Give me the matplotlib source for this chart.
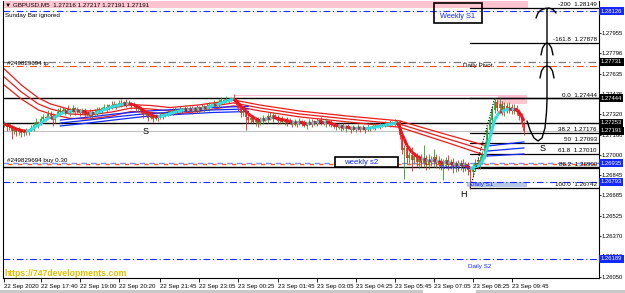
import matplotlib
matplotlib.use("Agg")
import matplotlib.pyplot as plt
import numpy as np
from matplotlib.patches import Rectangle
from matplotlib.collections import LineCollection

# ------------------------------------------------------------------ data
symbol_header = "\u25bc GBPUSD,M5  1.27216 1.27217 1.27191 1.27191"
first_open = 1.27236
closes = [
    1.27243, 1.27220, 1.27228, 1.27189, 1.27204, 1.27181, 1.27196, 1.27173, 1.27189, 1.27181,
    1.27196, 1.27212, 1.27236, 1.27259, 1.27243, 1.27282, 1.27298, 1.27290, 1.27322, 1.27306,
    1.27275, 1.27314, 1.27337, 1.27353, 1.27337, 1.27361, 1.27329, 1.27345, 1.27368, 1.27337,
    1.27353, 1.27329, 1.27345, 1.27314, 1.27329, 1.27306, 1.27337, 1.27322, 1.27353, 1.27345,
    1.27368, 1.27376, 1.27361, 1.27392, 1.27384, 1.27400, 1.27384, 1.27408, 1.27400, 1.27415,
    1.27400, 1.27408, 1.27384, 1.27392, 1.27361, 1.27368, 1.27337, 1.27314, 1.27329, 1.27290,
    1.27306, 1.27282, 1.27298, 1.27290, 1.27314, 1.27306, 1.27329, 1.27322, 1.27345, 1.27337,
    1.27353, 1.27345, 1.27361, 1.27353, 1.27368, 1.27353, 1.27361, 1.27345, 1.27368, 1.27353,
    1.27376, 1.27361, 1.27384, 1.27368, 1.27392, 1.27400, 1.27408, 1.27392, 1.27415, 1.27431,
    1.27423, 1.27439, 1.27431, 1.27447, 1.27439, 1.27408, 1.27368, 1.27329, 1.27345, 1.27298,
    1.27275, 1.27290, 1.27259, 1.27275, 1.27243, 1.27267, 1.27290, 1.27275, 1.27306, 1.27282,
    1.27314, 1.27290, 1.27267, 1.27282, 1.27259, 1.27275, 1.27251, 1.27267, 1.27236, 1.27259,
    1.27243, 1.27267, 1.27251, 1.27228, 1.27243, 1.27259, 1.27243, 1.27267, 1.27251, 1.27275,
    1.27259, 1.27243, 1.27267, 1.27251, 1.27236, 1.27220, 1.27228, 1.27212, 1.27228, 1.27204,
    1.27220, 1.27212, 1.27196, 1.27212, 1.27204, 1.27220, 1.27204, 1.27212, 1.27196, 1.27220,
    1.27212, 1.27228, 1.27220, 1.27236, 1.27228, 1.27243, 1.27236, 1.27251, 1.27243, 1.27259,
    1.27251, 1.27267, 1.27157, 1.27040, 1.27056, 1.26977, 1.27001, 1.26962, 1.26993, 1.26946,
    1.26970, 1.26938, 1.26977, 1.26923, 1.26962, 1.26946, 1.26985, 1.26931, 1.26954, 1.26915,
    1.26938, 1.26962, 1.26923, 1.26946, 1.26899, 1.26931, 1.26915, 1.26938, 1.26907, 1.26923,
    1.26884, 1.26868, 1.26899, 1.26938, 1.26915, 1.26962, 1.27001, 1.27079, 1.27196, 1.27275,
    1.27353, 1.27415, 1.27368, 1.27400, 1.27337, 1.27384, 1.27353, 1.27376, 1.27345, 1.27368,
    1.27337, 1.27306, 1.27243, 1.27191,
]
up_pips = [
    2, 1, 2, 1, 2, 1, 2, 1, 1, 2,   1, 2, 2, 3, 1, 2, 2, 1, 3, 2,
    2, 1, 3, 2, 2, 1, 3, 2, 2, 1,   2, 1, 2, 2, 1, 3, 1, 2, 2, 2,
    1, 2, 2, 1, 3, 2, 1, 2, 3, 1,   2, 2, 1, 2, 1, 2, 1, 2, 1, 2,
    2, 1, 2, 1, 2, 2, 1, 2, 1, 2,   2, 1, 2, 1, 2, 1, 2, 2, 1, 2,
    1, 2, 1, 2, 2, 1, 2, 1, 2, 2,   1, 2, 1, 1, 3, 1, 2, 1, 2, 1,
    2, 1, 2, 1, 2, 3, 2, 1, 2, 3,   2, 1, 2, 1, 2, 1, 2, 2, 1, 2,
    1, 2, 1, 2, 1, 2, 2, 1, 2, 1,   2, 1, 2, 1, 2, 1, 1, 2, 1, 2,
    1, 2, 1, 2, 1, 2, 1, 2, 1, 2,   1, 2, 2, 1, 2, 1, 2, 1, 2, 1,
    2, 1, 1, 3, 2, 4, 2, 6, 3, 2,   3, 4, 10, 2, 5, 3, 6, 2, 4, 2,
    3, 2, 4, 2, 3, 2, 3, 2, 3, 2,   2, 2, 3, 3, 4, 3, 3, 3, 2, 2,
    3, 3, 2, 5, 2, 3, 2, 4, 2, 3,   2, 2, 2, 2,
]
dn_pips = [
    2, 3, 2, 6, 2, 3, 2, 3, 2, 2,   2, 1, 2, 1, 3, 1, 2, 2, 1, 2,
    5, 2, 1, 2, 1, 2, 1, 2, 1, 2,   1, 2, 1, 2, 1, 2, 2, 1, 2, 1,
    2, 1, 2, 1, 2, 1, 2, 1, 2, 1,   2, 1, 2, 1, 2, 2, 1, 2, 1, 2,
    1, 2, 1, 2, 1, 2, 1, 2, 1, 2,   1, 2, 1, 2, 1, 2, 1, 2, 1, 2,
    2, 1, 2, 1, 2, 1, 2, 1, 2, 1,   2, 1, 2, 1, 2, 2, 2, 3, 2, 10,
    2, 2, 1, 3, 2, 1, 2, 1, 2, 1,   2, 1, 2, 2, 1, 2, 2, 1, 2, 1,
    2, 1, 2, 1, 2, 1, 2, 1, 2, 1,   2, 1, 2, 2, 2, 1, 2, 1, 2, 1,
    2, 1, 2, 1, 2, 1, 2, 1, 2, 1,   2, 1, 2, 1, 2, 1, 2, 1, 2, 1,
    2, 1, 3, 3, 23, 4, 5, 9, 3, 4,  5, 3, 3, 4, 3, 3, 4, 3, 4, 3,
    11, 3, 4, 3, 4, 3, 4, 3, 4, 3,  4, 13, 3, 2, 2, 2, 3, 2, 2, 2,
    2, 2, 2, 2, 2, 3, 2, 2, 2, 2,   2, 3, 2, 3,
]

time_tick_bars = [0, 15, 31, 47, 64, 80, 96, 112, 128, 144, 160, 176, 192, 208]
time_tick_labels = ["22 Sep 2020", "22 Sep 17:40", "22 Sep 19:00", "22 Sep 20:20",
                    "22 Sep 21:45", "22 Sep 23:05", "23 Sep 00:25", "23 Sep 01:45",
                    "23 Sep 03:05", "23 Sep 04:25", "23 Sep 05:45", "23 Sep 07:05",
                    "23 Sep 08:25", "23 Sep 09:45"]
price_ticks = [1.28115, 1.27955, 1.27796, 1.27635, 1.27475, 1.27320, 1.27160,
               1.27000, 1.26845, 1.26685, 1.26525, 1.26370, 1.26210, 1.26050]

# slow moving-average band 1 (3 lines)
ma1_bars = [0, 7, 14, 19, 27, 35, 44, 52, 60, 68, 80, 94, 105, 121, 141, 162, 170, 182, 198, 213]
ma1_mid = [1.27611, 1.27494, 1.27400, 1.27361, 1.27322, 1.27314, 1.27337, 1.27368, 1.27361,
           1.27345, 1.27368, 1.27408, 1.27368, 1.27322, 1.27282, 1.27243, 1.27196, 1.27126,
           1.27032, 1.27056]
ma1_spread = [0.00063, 0.00055, 0.00047, 0.00039, 0.00035, 0.00031, 0.00031, 0.00027, 0.00027,
              0.00027, 0.00025, 0.00023, 0.00023, 0.00023, 0.00023, 0.00025, 0.00027, 0.00031,
              0.00039, 0.00047]
# moving-average band 2 (blue, uptrend)
ma2_bars = [23, 35, 45, 57, 70, 85, 100]
ma2_mid = [1.27251, 1.27275, 1.27298, 1.27322, 1.27337, 1.27353, 1.27361]
ma2_spread = [0.00023, 0.00023, 0.00023, 0.00021, 0.00020, 0.00020, 0.00020]

weekly_s1 = 1.28126
daily_pivot = 1.27731
tp_level = 1.27697
line_hi = 1.27444
line_mid = 1.27253
bid = 1.27191
weekly_s2 = 1.26935
buy_level = 1.26930
line_low = 1.26905
daily_s1 = 1.26793
daily_s2 = 1.26189
prev_high = 1.27470

fib_labels = ["-200", "-161.8", "0.0", "38.2", "50", "61.8", "88.2", "100.0"]
fib_prices = [1.28149, 1.27878, 1.27444, 1.27176, 1.27093, 1.27010, 1.26900, 1.26742]
fib_low_bar = 191
fib_high_bar = 201

# ------------------------------------------------------------------ layout helpers
W, H = 625, 293
PXB = 2.44
def bx(px):  # pixel x -> bar coordinate
    return (px - 3) / PXB - 0.5
def pr(py):  # pixel y -> price
    return 1.28213 - 0.0000782 * py

plt.rcParams['font.family'] = ['Liberation Sans', 'DejaVu Sans']
fig = plt.figure(figsize=(W / 100, H / 100), dpi=100)
fig.patch.set_facecolor('white')
ax = fig.add_axes([3 / W, (H - 277.5) / H, 596 / W, 276.5 / H])
ax.set_xlim(bx(3), bx(599))
ax.set_ylim(pr(277.5), pr(1))
ax.set_facecolor('white')

BLUE = '#1428ff'
FS = 4.5
FSA = 4.2

# top pink band and header
ax.add_patch(Rectangle((bx(3), pr(8)), bx(528) - bx(3), pr(0) - pr(8), fc='#ffc4cf', ec='none', zorder=0))
# pink zones
ax.add_patch(Rectangle((bx(235), prev_high - 0.00006), bx(527) - bx(235), 0.00010, fc='#ffc4cf', ec='none', zorder=0))
ax.add_patch(Rectangle((bx(498), pr(104)), bx(527) - bx(498), pr(95) - pr(104), fc='#ffc4cf', ec='none', zorder=0))
ax.add_patch(Rectangle((bx(467), pr(187)), bx(527) - bx(467), pr(182) - pr(187), fc='#b8c8e8', ec='none', zorder=0))

dashdot = (0, (6, 2.5, 1, 2.5))
xl = ax.get_xlim()
ax.axhline(weekly_s1, color=BLUE, lw=0.8, ls=dashdot, zorder=1)
ax.axhline(daily_pivot, color='#7a7a7a', lw=0.9, ls=dashdot, zorder=1)
ax.axhline(tp_level, color='#ff4a10', lw=0.8, ls=dashdot, zorder=1)
ax.axhline(line_hi, color='black', lw=1.0, zorder=1)
ax.axhline(line_mid, color='black', lw=1.0, zorder=1)
ax.axhline(bid, color='#c0c0c0', lw=0.8, zorder=1)
ax.axhline(weekly_s2, color='#7090ff', lw=1.0, ls=(0, (4, 3)), zorder=1)
ax.axhline(buy_level, color='#ff5a10', lw=1.0, ls=(3.5, (3, 4)), zorder=1)
ax.axhline(line_low, color='black', lw=1.0, zorder=1)
ax.axhline(daily_s1, color=BLUE, lw=0.8, ls=dashdot, zorder=1)
ax.axhline(daily_s2, color=BLUE, lw=0.8, ls=dashdot, zorder=1)

# fibonacci levels
for lbl, p in zip(fib_labels, fib_prices):
    ax.plot([fib_low_bar, xl[1]], [p, p], color='black', lw=0.9, zorder=1)
    ax.annotate(f"{lbl}  {p:.5f}", xy=(1, p), xycoords=('axes fraction', 'data'),
                xytext=(-1.5, 0.6), textcoords='offset points', ha='right', va='bottom',
                fontsize=FS, color='black', zorder=6)
ax.plot([fib_low_bar, fib_high_bar], [fib_prices[-1], fib_prices[2]], color='black',
        lw=0.8, ls=(0, (1, 1.5)), zorder=5)

# MA bands
mb1 = np.array(ma1_bars); mm1 = np.array(ma1_mid); ms1 = np.array(ma1_spread)
k = list(mb1).index(198)
for off in (-1, 0, 1):
    ax.plot(mb1[:k + 1], mm1[:k + 1] + off * ms1[:k + 1], color='#ee1c1c', lw=0.9, zorder=2)
    ax.plot(mb1[k:], mm1[k:] + off * ms1[k:], color='#1428ff', lw=0.9, zorder=2)
mb2 = np.array(ma2_bars); mm2 = np.array(ma2_mid); ms2 = np.array(ma2_spread)
for off in (-1, 0, 1):
    ax.plot(mb2, mm2 + off * ms2, color='#1428ff', lw=0.9, zorder=2)

# candles
c = np.array(closes)
o = np.concatenate([[first_open], c[:-1]])
hi = np.maximum(o, c) + np.array(up_pips) * 0.0001
lo = np.minimum(o, c) - np.array(dn_pips) * 0.0001
xb = np.arange(len(c))
cols = np.where(c >= o, '#22a022', '#ff1c1c')
ax.vlines(xb, lo, hi, colors=cols, lw=0.6, zorder=3)
body_lo = np.minimum(o, c); body_hi = np.maximum(o, c)
body_hi = np.where(body_hi - body_lo < 0.00003, body_lo + 0.00003, body_hi)
ax.vlines(xb, body_lo, body_hi, colors=cols, lw=1.2, zorder=3)

# fast trend line (EMA of closes), coloured by direction
ema = np.empty_like(c)
alpha = 2 / (5 + 1)
ema[0] = c[0]
for i in range(1, len(c)):
    ema[i] = alpha * c[i] + (1 - alpha) * ema[i - 1]
segs = [[(xb[i], ema[i]), (xb[i + 1], ema[i + 1])] for i in range(len(c) - 1)]
scol = ['#2ee0e6' if ema[i + 1] >= ema[i] else '#e8141e' for i in range(len(c) - 1)]
ax.add_collection(LineCollection(segs, colors=scol, linewidths=2.2, zorder=4))

# hand-drawn arrows
def draw_px(pts):
    ax.plot([bx(p[0]) for p in pts], [pr(p[1]) for p in pts], color='black', lw=1.0,
            zorder=6, solid_capstyle='round')
draw_px([(527, 121), (530, 130), (534, 138), (538, 141), (542, 138), (545, 128), (546.5, 112), (547, 100), (547, 9)])
draw_px([(540, 78), (541.5, 71), (544, 67), (547, 66), (550, 67), (552.5, 71), (554, 78)])
draw_px([(541, 55), (542.5, 48), (545, 44), (547, 43), (549, 44), (551.5, 48), (553, 55)])
draw_px([(536, 18), (538, 13), (541, 10), (545, 8.5), (549, 8), (553, 9.5), (556, 13)])

# boxes with text
ax.add_patch(Rectangle((bx(434), pr(23)), bx(482) - bx(434), pr(3) - pr(23), fc='none', ec='black', lw=1.2, zorder=6))
ax.text(bx(440), pr(16), "Weekly S1", color=BLUE, fontsize=5.3, va='center', ha='left', zorder=7)
ax.add_patch(Rectangle((bx(335), pr(167)), bx(398) - bx(335), pr(157) - pr(167), fc='white', ec='black', lw=1.2, zorder=6))
ax.text(bx(344), pr(162), "weekly s2", color=BLUE, fontsize=5.6, va='center', ha='left', zorder=7)

ax.text(bx(7), tp_level + 0.00003, "#249829694 tp", fontsize=FS, color='black', va='bottom', ha='left', zorder=7)
ax.text(bx(7), buy_level + 0.00005, "#249829694 buy 0.30", fontsize=FS, color='black', va='bottom', ha='left', zorder=7)
ax.text(bx(463), pr(65), "Daily Pivot", fontsize=FS, color='black', va='center', ha='left', zorder=7)
ax.text(bx(440), pr(167), "Weekly S2", fontsize=FS, color=BLUE, va='center', ha='left', zorder=7)
ax.text(bx(470), pr(184.5), "Daily S1", fontsize=FS, color=BLUE, va='center', ha='left', zorder=7)
ax.text(bx(468), pr(266), "Daily S2", fontsize=FS, color=BLUE, va='center', ha='left', zorder=7)
ax.text(bx(146), pr(131), "S", fontsize=6.5, color='black', va='center', ha='center', zorder=7)
ax.text(bx(543), pr(148), "S", fontsize=6.5, color='black', va='center', ha='center', zorder=7)
ax.text(bx(463), pr(194), "H", fontsize=6.5, color='black', va='center', ha='center', zorder=7)
ax.text(bx(4), pr(273), "https://747developments.com", fontsize=6.2, fontweight='bold',
        color='#e2c000', va='center', ha='left', zorder=7)

fig.text(5 / W, 1 - 4.5 / H, symbol_header, fontsize=FS, color='black', va='center', ha='left')
fig.text(5 / W, 1 - 15 / H, "Sunday Bar ignored", fontsize=FS, color='black', va='center', ha='left')

# axes / ticks
ax.spines['top'].set_visible(False)
for s in ('left', 'right', 'bottom'):
    ax.spines[s].set_color('black')
    ax.spines[s].set_linewidth(0.8)
ax.yaxis.tick_right()
ax.set_yticks(price_ticks)
ax.set_yticklabels([f"{p:.5f}" for p in price_ticks])
ax.tick_params(axis='y', labelsize=FSA, length=1.5, width=0.6, pad=0.6, colors='black')
ax.set_xticks(time_tick_bars)
ax.set_xticklabels(time_tick_labels)
ax.tick_params(axis='x', labelsize=4.45, length=3, width=0.6, pad=1.5)
for t in ax.get_xticklabels():
    t.set_ha('left')

# highlighted price labels on the right scale
hl = [(weekly_s1, BLUE), (daily_pivot, 'black'), (line_hi, 'black'), (line_mid, 'black'),
      (bid, 'black'), (weekly_s2, BLUE), (daily_s1, BLUE), (daily_s2, BLUE)]
for p, colr in hl:
    ax.annotate(f"{p:.5f}", xy=(1, p), xycoords=('axes fraction', 'data'), xytext=(1.2, 0),
                textcoords='offset points', ha='left', va='center', fontsize=FSA, color='white',
                bbox=dict(boxstyle='square,pad=0.25', fc=colr, ec='none'), annotation_clip=False, zorder=8)

# bottom strip
fig.add_artist(Rectangle((0, 0), 1, 3 / H, transform=fig.transFigure, fc='#c8c8c8', ec='none'))
fig.add_artist(Rectangle((423 / W, 0), 53 / W, 3 / H, transform=fig.transFigure, fc='white', ec='none'))

fig.savefig('out.png', dpi=100)
